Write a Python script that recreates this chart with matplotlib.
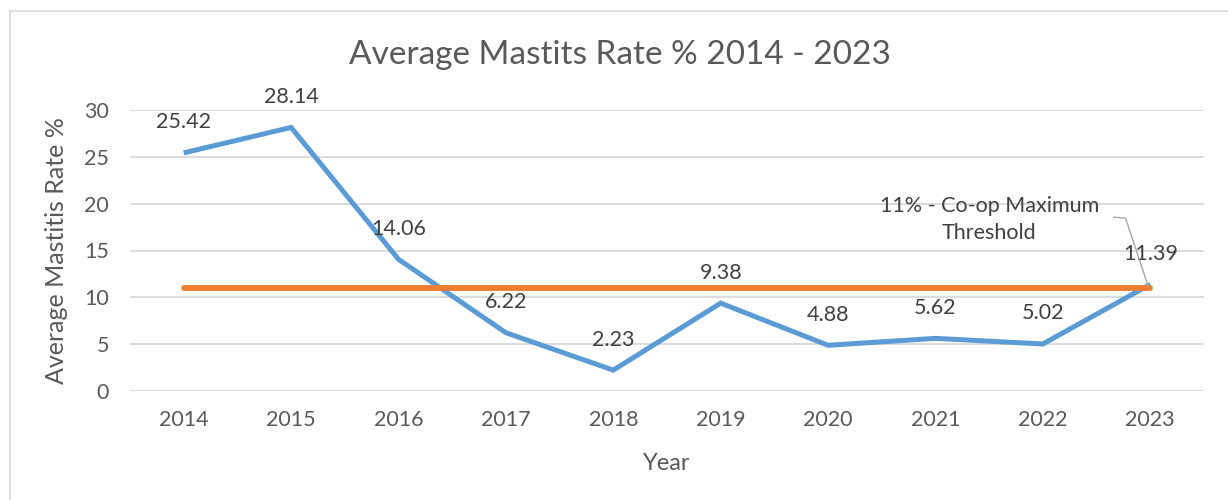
import matplotlib
matplotlib.use("Agg")
import matplotlib.pyplot as plt
from matplotlib.lines import Line2D

years = ["2014", "2015", "2016", "2017", "2018", "2019", "2020", "2021", "2022", "2023"]
mastitis_rate = [25.42, 28.14, 14.06, 6.22, 2.23, 9.38, 4.88, 5.62, 5.02, 11.39]
threshold = [11] * len(years)
threshold_label = "11% - Co-op Maximum\nThreshold"
title = "Average Mastits Rate % 2014 - 2023"
y_ticks = [0, 5, 10, 15, 20, 25, 30]

plt.rcParams['font.family'] = ['Lato', 'DejaVu Sans']
txt = '#595959'
lbl = '#404040'

fig = plt.figure(figsize=(12.28, 5.0), dpi=100)
ax = fig.add_axes([130/1228, 109/500, (1204-130)/1228, (391-110)/500])

x = list(range(len(years)))
ax.plot(x, mastitis_rate, color='#5B9BD5', lw=3.6, solid_capstyle='butt', solid_joinstyle='miter', zorder=3)
ax.plot(x, threshold, color='#ED7D31', lw=4.2, solid_capstyle='round', zorder=4)

for xi, v in zip(x, mastitis_rate):
    ax.annotate(f"{v:.2f}", (xi, v), xytext=(0, 22), textcoords='offset points',
                ha='center', va='center', fontsize=15.5, color=lbl, zorder=5)

# threshold callout
tx, ty = 7.5, 18.35
ax.text(tx, ty, threshold_label, ha='center', va='center', fontsize=15.5, color=lbl,
        linespacing=1.45, zorder=5)
last = len(years) - 1
ax.plot([8.66, 8.77, last - 0.02], [18.55, 18.45, threshold[last] + 0.2], color='#A6A6A6', lw=1.0, zorder=6)

ax.set_xlim(-0.5, len(years) - 0.5)
ax.set_ylim(0, 30)
ax.set_yticks(y_ticks)
ax.set_xticks(x)
ax.set_xticklabels(years)
ax.grid(axis='y', color='#D9D9D9', lw=1.3, zorder=0)
ax.set_axisbelow(True)
for s in ax.spines.values():
    s.set_visible(False)
ax.tick_params(axis='both', length=0, labelsize=15.5, labelcolor=txt)
ax.tick_params(axis='y', pad=15)
ax.tick_params(axis='x', pad=14)

ax.set_ylabel("Average Mastitis Rate %", fontsize=18, color=txt, labelpad=12)
ax.set_xlabel("Year", fontsize=17, color=txt, labelpad=16)
fig.text(620/1228, 1 - 55/500, title, ha='center', va='center', fontsize=24, color=txt)

# chart border (top and left visible)
fig.add_artist(Line2D([10/1228, 1], [1 - 11/500, 1 - 11/500], color='#D9D9D9', lw=1.2, transform=fig.transFigure))
fig.add_artist(Line2D([10/1228, 10/1228], [0, 1 - 11/500], color='#D9D9D9', lw=1.2, transform=fig.transFigure))

fig.savefig("out.png", dpi=100)
